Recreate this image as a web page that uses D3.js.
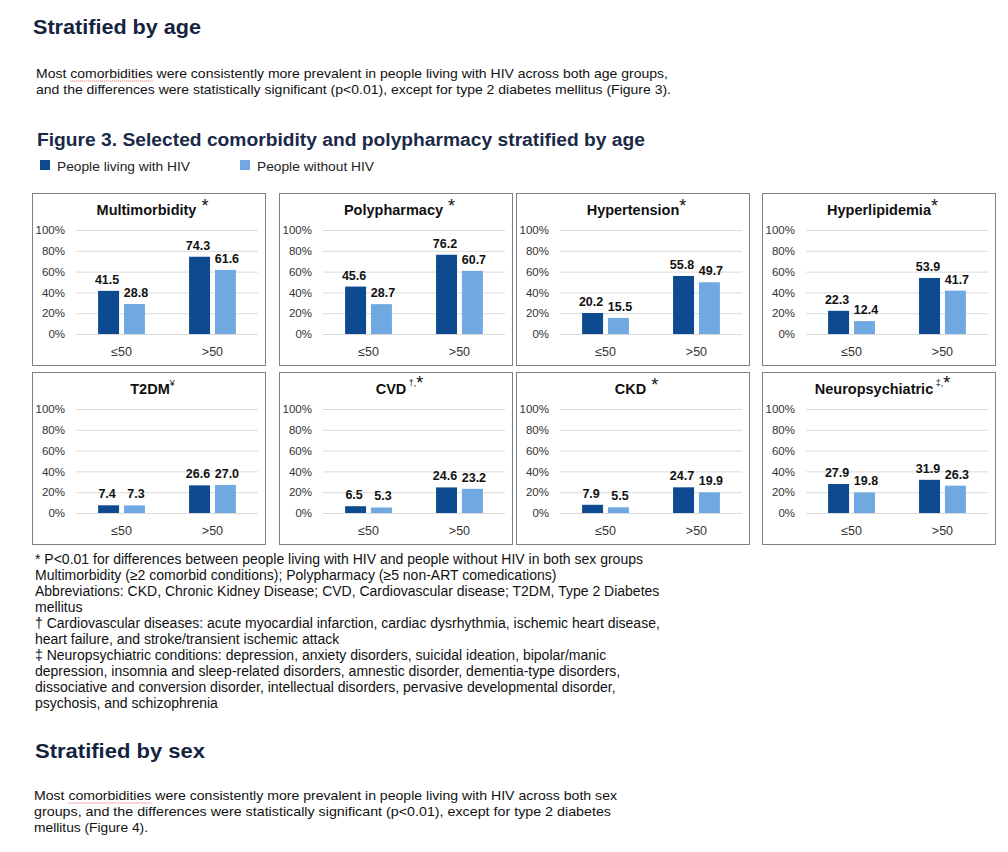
<!DOCTYPE html>
<html>
<head>
<meta charset="utf-8">
<title>Figure 3</title>
<style>
body { margin: 0; background: #fff; }
text { font-family: "Liberation Sans", Arial, sans-serif; }
.heading { font-size: 21px; font-weight: bold; fill: #14243f; }
.figtitle { font-size: 18px; font-weight: bold; fill: #1b2a48; }
.body { font-size: 13.5px; fill: #111; }
.note { font-size: 14px; fill: #111; }
.legend { font-size: 13.5px; fill: #222; }
.ptitle { font-size: 14.5px; font-weight: bold; fill: #111; }
.mark { font-size: 18px; font-weight: normal; fill: #111; }
.mark.small { font-size: 9px; }
.vlabel { font-size: 12.5px; font-weight: bold; fill: #111; }
.axis text { font-size: 11.5px; fill: #333; }
.cat { font-size: 12.5px; fill: #333; }
</style>
</head>
<body>
<svg width="1008" height="852"></svg>
<script src="https://cdn.jsdelivr.net/npm/d3@7"></script>
<script>

// ---- data ----
var panels   = ["Multimorbidity", "Polypharmacy", "Hypertension", "Hyperlipidemia",
                "T2DM", "CVD", "CKD", "Neuropsychiatric"];
var marks    = [" *", " *", "*", "*", "¥", " †,*", " *", " ‡,*"];
var ageGroups = ["≤50", ">50"];
var series   = ["People living with HIV", "People without HIV"];
var hivValues   = [[41.5, 74.3], [45.6, 76.2], [20.2, 55.8], [22.3, 53.9],
                   [7.4, 26.6], [6.5, 24.6], [7.9, 24.7], [27.9, 31.9]];
var noHivValues = [[28.8, 61.6], [28.7, 60.7], [15.5, 49.7], [12.4, 41.7],
                   [7.3, 27.0], [5.3, 23.2], [5.5, 19.9], [19.8, 26.3]];
var yTicks = [0, 20, 40, 60, 80, 100];
var colors = ["#0d4a90", "#70a9e1"];

var footnotes = [
  "* P<0.01 for differences between people living with HIV and people without HIV in both sex groups",
  "Multimorbidity (≥2 comorbid conditions); Polypharmacy (≥5 non-ART comedications)",
  "Abbreviations: CKD, Chronic Kidney Disease; CVD, Cardiovascular disease; T2DM, Type 2 Diabetes",
  "mellitus",
  "† Cardiovascular diseases: acute myocardial infarction, cardiac dysrhythmia, ischemic heart disease,",
  "heart failure, and stroke/transient ischemic attack",
  "‡ Neuropsychiatric conditions: depression, anxiety disorders, suicidal ideation, bipolar/manic",
  "depression, insomnia and sleep-related disorders, amnestic disorder, dementia-type disorders,",
  "dissociative and conversion disorder, intellectual disorders, pervasive developmental disorder,",
  "psychosis, and schizophrenia"
];
var ageText = [
  "Most comorbidities were consistently more prevalent in people living with HIV across both age groups,",
  "and the differences were statistically significant (p<0.01), except for type 2 diabetes mellitus (Figure 3)."
];
var sexText = [
  "Most comorbidities were consistently more prevalent in people living with HIV across both sex",
  "groups, and the differences were statistically significant (p<0.01), except for type 2 diabetes",
  "mellitus (Figure 4)."
];

// ---- layout ----
var svg = d3.select("svg");
var panelX = [32, 279, 516, 762],
    panelY = [193, 372],
    panelW = 233, panelH = 172;
var plot = {left: 44, right: 226, top: 37, bottom: 141};

function textLine(cls, x, y, str, len) {
  var t = svg.append("text").attr("class", cls).attr("x", x).attr("y", y).text(str);
  if (len) t.attr("textLength", len).attr("lengthAdjust", "spacingAndGlyphs");
  return t;
}

// red spell-check underline under a word
function squiggle(t, from, to) {
  var n = t.node();
  var x0 = n.getStartPositionOfChar(from).x,
      x1 = n.getEndPositionOfChar(to).x,
      y = +t.attr("y") + 3;
  svg.append("line")
    .attr("x1", x0).attr("x2", x1).attr("y1", y).attr("y2", y)
    .attr("stroke", "#e0605a").attr("stroke-width", 1).attr("stroke-dasharray", "1,1");
}

// headings and text
textLine("heading", 33, 34, "Stratified by age", 168);
var a1 = textLine("body", 36, 78, ageText[0], 632);
textLine("body", 36, 94, ageText[1], 635);
squiggle(a1, 5, 17);

textLine("figtitle", 37, 146, "Figure 3. Selected comorbidity and polypharmacy stratified by age", 608);

// legend
var legX = [40, 240];
series.forEach(function(s, i) {
  svg.append("rect").attr("x", legX[i]).attr("y", 160).attr("width", 10).attr("height", 10)
    .attr("fill", colors[i]);
  textLine("legend", legX[i] + 17, 171, s, i == 0 ? 133 : 117);
});

// ---- panels ----
var x0 = d3.scaleBand().domain(ageGroups).range([plot.left, plot.right])
    .paddingInner(0.485).paddingOuter(0.243);
var x1 = d3.scaleBand().domain(series).range([0, x0.bandwidth()]).paddingInner(0.19);
var y = d3.scaleLinear().domain([0, 100]).range([plot.bottom, plot.top]);

panels.forEach(function(name, p) {
  var g = svg.append("g")
      .attr("transform", "translate(" + panelX[p % 4] + "," + panelY[Math.floor(p / 4)] + ")");

  g.append("rect").attr("x", 0.5).attr("y", 0.5).attr("width", panelW).attr("height", panelH)
    .attr("fill", "#fff").attr("stroke", "#808080").attr("stroke-width", 1);

  // title with superscript mark
  var title = g.append("text").attr("class", "ptitle").attr("y", 22);
  title.append("tspan").text(name);
  var m = marks[p];
  var small = m.indexOf("¥") >= 0 || m.indexOf("†") >= 0 || m.indexOf("‡") >= 0;
  if (small) {
    var parts = m.split(",");
    title.append("tspan").attr("class", "mark small").attr("dy", -8).text(parts[0] + (parts.length > 1 ? "," : ""));
    if (parts.length > 1) title.append("tspan").attr("class", "mark").attr("dy", 3).text(parts[1]);
  } else {
    title.append("tspan").attr("class", "mark").attr("dy", -3).text(m);
  }
  var tw = title.node().getComputedTextLength();
  title.attr("x", panelW / 2 + 4 - tw / 2);

  // y axis with gridlines
  var ax = g.append("g").attr("class", "axis")
      .attr("transform", "translate(" + plot.left + ",0)")
      .call(d3.axisLeft(y).tickValues(yTicks).tickFormat(function(d) { return d + "%"; })
        .tickSize(-(plot.right - plot.left)).tickPadding(11));
  ax.select(".domain").remove();
  ax.selectAll(".tick line").attr("stroke", "#dadada");

  // category labels
  g.selectAll(".cat").data(ageGroups).enter().append("text")
    .attr("class", "cat")
    .attr("x", function(d) { return x0(d) + x0.bandwidth() / 2; })
    .attr("y", plot.bottom + 22)
    .attr("text-anchor", "middle")
    .text(function(d) { return d; });

  // bars
  var rows = ageGroups.map(function(a, i) {
    return {group: a, vals: [
      {s: series[0], v: hivValues[p][i], c: 0},
      {s: series[1], v: noHivValues[p][i], c: 1}
    ]};
  });
  var grp = g.selectAll(".grp").data(rows).enter().append("g")
    .attr("transform", function(d) { return "translate(" + x0(d.group) + ",0)"; });

  grp.selectAll("rect").data(function(d) { return d.vals; }).enter().append("rect")
    .attr("x", function(d) { return x1(d.s); })
    .attr("width", x1.bandwidth())
    .attr("y", function(d) { return y(d.v); })
    .attr("height", function(d) { return y(0) - y(d.v); })
    .attr("fill", function(d) { return colors[d.c]; });

  grp.selectAll(".vlabel").data(function(d) { return d.vals; }).enter().append("text")
    .attr("class", "vlabel")
    .attr("x", function(d) { return x1(d.s) + x1.bandwidth() / 2 + (d.c == 0 ? -1.5 : 1.5); })
    .attr("y", function(d) { return y(d.v) - 7; })
    .attr("text-anchor", "middle")
    .text(function(d) { return d.v.toFixed(1); });
});

// footnotes
footnotes.forEach(function(f, i) {
  textLine("note", 35, 564 + i * 16, f);
});

textLine("heading", 35, 758, "Stratified by sex", 170);
var s1 = textLine("body", 34, 800, sexText[0], 583);
textLine("body", 34, 816, sexText[1], 577);
textLine("body", 34, 832, sexText[2], 114);
squiggle(s1, 5, 17);

</script>
</body>
</html>
